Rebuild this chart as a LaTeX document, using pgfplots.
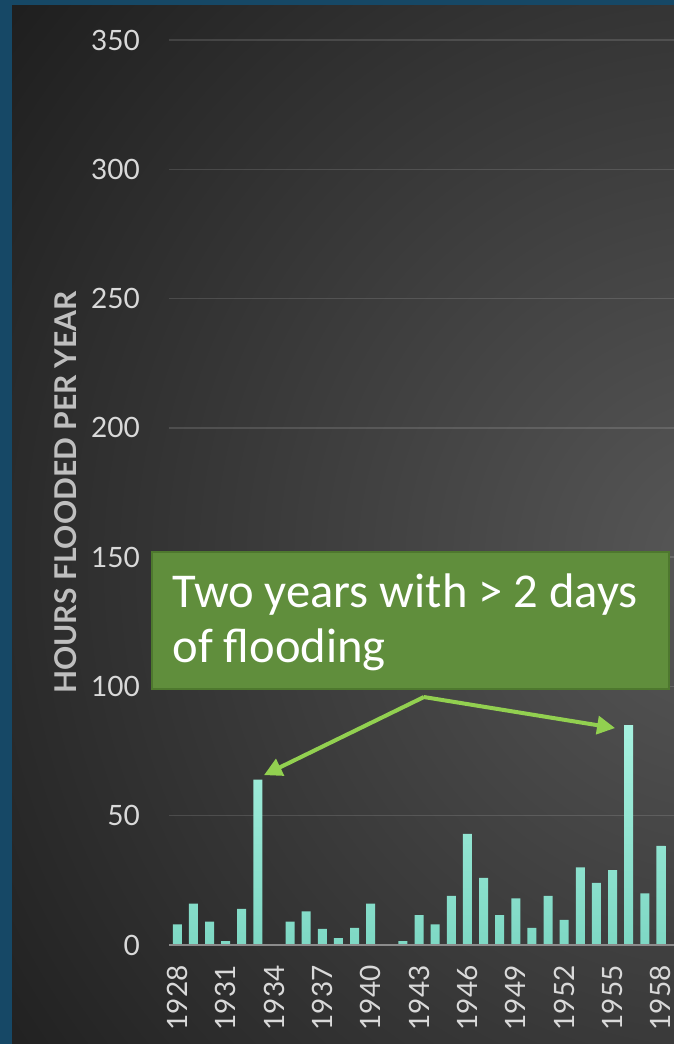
\documentclass[border=0pt]{standalone}
\usepackage{fontspec}
\setmainfont{Lato}
\newfontfamily\calibri{Carlito}
\usepackage{pgfplots}
\pgfplotsset{compat=1.18}
\usetikzlibrary{arrows.meta}
\definecolor{framecol}{RGB}{22,72,102}
\definecolor{bgin}{RGB}{88,88,88}
\definecolor{bgout}{RGB}{30,30,30}
\definecolor{bartop}{RGB}{166,241,223}
\definecolor{barbot}{RGB}{126,216,196}
\definecolor{boxfill}{RGB}{96,142,60}
\definecolor{boxedge}{RGB}{78,120,46}
\definecolor{arrowgreen}{RGB}{146,208,80}
\definecolor{ticktext}{RGB}{217,217,217}
\definecolor{labeltext}{RGB}{191,191,191}
\definecolor{basecol}{RGB}{140,140,140}
\pgfdeclareradialshading{bgshade}{\pgfpoint{0bp}{0bp}}{color(0bp)=(bgin); color(25bp)=(bgout); color(50bp)=(bgout)}

\pgfplotstableread{
idx val
0 8
1 16
2 9
3 1.5
4 14
5 64
6 0
7 9
8 13
9 6.2
10 2.7
11 6.6
12 16
13 0
14 1.5
15 11.6
16 8
17 19
18 43
19 26
20 11.6
21 18
22 6.6
23 19
24 9.7
25 30
26 24
27 29
28 85
29 20
30 38.3
}\floodtable

\begin{document}
\begin{tikzpicture}
\useasboundingbox (0,0) rectangle (337pt,522pt);
\clip (0,0) rectangle (337pt,522pt);
\fill[framecol] (0,0) rectangle (337pt,522pt);
\begin{scope}
\clip (6pt,0) rectangle (337pt,519pt);
\shade[shading=bgshade] (365pt,240pt) circle (460pt);
\end{scope}
\begin{axis}[
  at={(84.6pt,49.5pt)}, anchor=south west,
  scale only axis, width=253.9pt, height=452.5pt,
  xmin=-0.5, xmax=31, ymin=0, ymax=350,
  ytick={0,50,...,350},
  xtick={0,3,...,30},
  xticklabels={1928,1931,1934,1937,1940,1943,1946,1949,1952,1955,1958},
  axis line style={draw=none},
  major tick length=0pt,
  ymajorgrids, grid style={draw=white, draw opacity=0.13, line width=0.7pt},
  tick label style={font=\fontsize{14}{16}\selectfont, text=ticktext},
  /pgf/number format/assume math mode=true,
  yticklabel style={anchor=east, inner sep=0pt},
  yticklabel shift=14.5pt,
  xticklabel style={rotate=90, anchor=east, inner sep=0pt},
  xticklabel shift=10pt,
  ylabel={HOURS FLOODED PER YEAR},
  ylabel style={at={(axis description cs:-0.204,0.5)}, anchor=center, font=\bfseries\fontsize{15}{17}\selectfont, text=labeltext},
  clip=false,
]
\addplot[ybar, bar width=4.5pt, draw=none, top color=bartop, bottom color=barbot] table[x=idx, y=val] {\floodtable};
\draw[basecol, line width=1.3pt] (axis cs:-0.5,0) -- (axis cs:31,0);
\draw[arrowgreen, line width=2pt, -{Triangle[length=9pt,width=9pt]}] (axis cs:15.3,95.9) -- (axis cs:5.38,65.7);
\draw[arrowgreen, line width=2pt, -{Triangle[length=9pt,width=9pt]}] (axis cs:15.3,95.9) -- (axis cs:27.16,83.9);
\end{axis}
\draw[fill=boxfill, draw=boxedge, line width=1pt] (76pt,177.5pt) rectangle (334.5pt,246pt);
\node[anchor=base west, inner sep=0pt, text=white, font=\calibri\fontsize{24.3}{28}\selectfont] at (86pt,218pt) {Two years with > 2 days};
\node[anchor=base west, inner sep=0pt, text=white, font=\calibri\fontsize{24.3}{28}\selectfont] at (86pt,190.5pt) {of flooding};
\end{tikzpicture}
\end{document}
